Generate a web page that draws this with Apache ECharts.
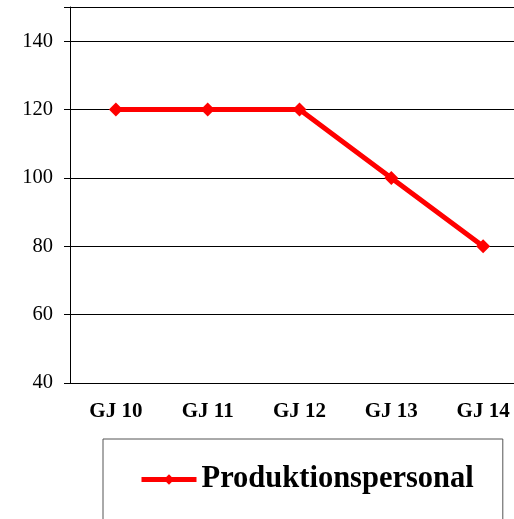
<!DOCTYPE html>
<html>
<head>
<meta charset="utf-8">
<script src="https://cdn.jsdelivr.net/npm/echarts@6/dist/echarts.min.js"></script>
<style>
  html, body { margin: 0; padding: 0; background: #fff; overflow: hidden; }
  /* Zeichenfläche reicht rechts über das Fenster hinaus, wie im Original */
  #chart { width: 530px; height: 519px; }
</style>
</head>
<body>
<div id="chart"></div>
<script>
// Geschäftsjahre
var categories = ['GJ 10', 'GJ 11', 'GJ 12', 'GJ 13', 'GJ 14']
// Produktionspersonal je Jahr
var personal = [120, 120, 120, 100, 80]
var seriesName = 'Produktionspersonal'

var chart = echarts.init(document.getElementById('chart'))
chart.setOption({
  animation: false,
  grid: {
    left: 70,
    right: 1,
    top: 7,
    bottom: 136
  },
  legend: {
    data: [seriesName],
    left: 103,
    top: 439,
    padding: [25, 29, 60, 36],
    borderColor: '#555',
    borderWidth: 1,
    itemWidth: 55,
    itemHeight: 13,
    itemGap: 0,
    lineStyle: { width: 5 },
    textStyle: {
      fontFamily: 'Liberation Serif',
      fontWeight: 'bold',
      fontSize: 30.5,
      color: '#000'
    }
  },
  xAxis: {
    type: 'category',
    data: categories,
    boundaryGap: true,
    axisLine: { lineStyle: { color: '#000', width: 1 } },
    axisTick: { length: 5, lineStyle: { color: '#000' } },
    axisLabel: {
      margin: 18,
      fontFamily: 'Liberation Serif',
      fontWeight: 'bold',
      fontSize: 21,
      color: '#000'
    }
  },
  yAxis: {
    type: 'value',
    min: 40,
    max: 150,
    interval: 20,
    axisLine: { show: true, lineStyle: { color: '#000', width: 1 } },
    axisTick: { show: true, length: 6, lineStyle: { color: '#000' } },
    splitLine: { lineStyle: { color: '#000', width: 1 } },
    axisLabel: {
      margin: 17,
      fontFamily: 'Liberation Serif',
      fontSize: 20.5,
      color: '#000',
      formatter: function (v) {
        // 150 ist nur der obere Rand
        return v === 150 ? '' : v
      }
    }
  },
  series: [
    {
      name: seriesName,
      type: 'line',
      data: personal,
      symbol: 'diamond',
      symbolSize: 14,
      lineStyle: { color: '#ff0000', width: 5 },
      itemStyle: { color: '#ff0000' }
    }
  ]
})
</script>
</body>
</html>
